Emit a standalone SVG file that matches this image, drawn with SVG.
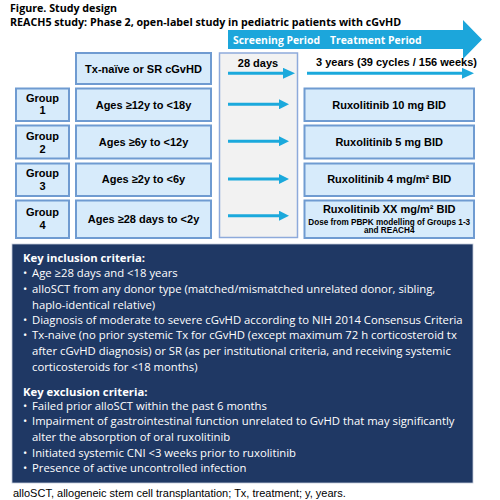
<svg xmlns="http://www.w3.org/2000/svg" width="500" height="500" viewBox="0 0 500 500">
<style>
.title{font-family:"Open Sans","Noto Sans",sans-serif;font-weight:bold;font-size:10.7px;fill:#000}
.band{font-family:"Open Sans","Noto Sans",sans-serif;font-weight:bold;font-size:10.4px;fill:#fff}
.box{fill:#d7ebfb;stroke:#6f9bd1;stroke-width:2}
.bt{font-family:"Liberation Sans",Arial,sans-serif;font-weight:bold;font-size:11px;fill:#000;text-anchor:middle}
.small{font-size:8.2px}
.crit{font-family:"Open Sans","Noto Sans",sans-serif;font-size:11.3px;fill:#fff}
.crith{font-weight:bold}
.foot{font-family:"Liberation Sans",Arial,sans-serif;font-size:11px;fill:#000}
.conn{stroke:#1ba9dc;stroke-width:3;fill:none}
</style>
<defs>
<marker id="head" markerUnits="userSpaceOnUse" viewBox="0 0 10 10" markerWidth="10" markerHeight="10" refX="0" refY="5" orient="auto">
<path d="M0,0 L10,5 L0,10 z" fill="#1ba9dc"/>
</marker>
<marker id="headL" markerUnits="userSpaceOnUse" viewBox="0 0 12 11" markerWidth="12" markerHeight="11" refX="0" refY="5.5" orient="auto">
<path d="M0,0 L12,5.5 L0,11 z" fill="#1ba9dc"/>
</marker>
</defs>
<rect width="500" height="500" fill="#fff"/>

<g id="title">
<text class="title" x="10" y="12">Figure. Study design</text>
<text class="title" x="10" y="26">REACH5 study: Phase 2, open-label study in pediatric patients with cGvHD</text>
</g>

<g id="period-band">
<polygon points="228,30 463,30 463,20 482,39.5 463,59 463,49 228,49" fill="#1ca6db"/>
<text class="band" x="233" y="44">Screening Period</text>
<text class="band" x="330" y="44">Treatment Period</text>
</g>

<g id="screening">
<rect x="219.5" y="53" width="78" height="184.5" fill="#f2f2f2" stroke="#8eaadb" stroke-width="1.5"/>
<text class="bt" x="258" y="67">28 days</text>
</g>

<g id="treatment-duration">
<text class="bt" x="396.5" y="66">3 years (39 cycles / 156 weeks)</text>
</g>

<g id="population">
<rect class="box" x="76" y="53" width="135" height="31"/>
<text class="bt" x="143.5" y="72.5">Tx-naïve or SR cGvHD</text>
</g>

<g id="group1">
<rect class="box" x="16" y="88.5" width="53" height="32.5"/>
<text class="bt" x="42.5" y="101.7">Group</text>
<text class="bt" x="42.5" y="114.3">1</text>
</g>
<g id="group2">
<rect class="box" x="16" y="125.5" width="53" height="33"/>
<text class="bt" x="42.5" y="139.5">Group</text>
<text class="bt" x="42.5" y="152.5">2</text>
</g>
<g id="group3">
<rect class="box" x="16" y="163.5" width="53" height="32.5"/>
<text class="bt" x="42.5" y="177.3">Group</text>
<text class="bt" x="42.5" y="190">3</text>
</g>
<g id="group4">
<rect class="box" x="16" y="200.5" width="53" height="37.5"/>
<text class="bt" x="42.5" y="216.3">Group</text>
<text class="bt" x="42.5" y="229">4</text>
</g>

<g id="ages1">
<rect class="box" x="76" y="88.5" width="135" height="32.5"/>
<text class="bt" x="143.5" y="109">Ages ≥12y to &lt;18y</text>
</g>
<g id="ages2">
<rect class="box" x="76" y="125.5" width="135" height="33"/>
<text class="bt" x="143.5" y="146.3">Ages ≥6y to &lt;12y</text>
</g>
<g id="ages3">
<rect class="box" x="76" y="163.5" width="135" height="32.5"/>
<text class="bt" x="143.5" y="183.3">Ages ≥2y to &lt;6y</text>
</g>
<g id="ages4">
<rect class="box" x="76" y="200.5" width="135" height="37.5"/>
<text class="bt" x="143.5" y="223.3">Ages ≥28 days to &lt;2y</text>
</g>

<g id="rux1">
<rect class="box" x="304.5" y="88.5" width="169.5" height="32.5"/>
<text class="bt" x="389.2" y="109">Ruxolitinib 10 mg BID</text>
</g>
<g id="rux2">
<rect class="box" x="304.5" y="125.5" width="169.5" height="33"/>
<text class="bt" x="389.2" y="146.3">Ruxolitinib 5 mg BID</text>
</g>
<g id="rux3">
<rect class="box" x="304.5" y="163.5" width="169.5" height="32.5"/>
<text class="bt" x="389.2" y="183.3">Ruxolitinib 4 mg/m² BID</text>
</g>
<g id="rux4">
<rect class="box" x="304.5" y="200.5" width="169.5" height="37.5"/>
<text class="bt" x="389.2" y="213.3">Ruxolitinib XX mg/m² BID</text>
<text class="bt small" x="389.2" y="224.5">Dose from PBPK modelling of Groups 1-3</text>
<text class="bt small" x="389.2" y="233">and REACH4</text>
</g>

<g id="connectors">
<line class="conn" x1="228" y1="73.3" x2="283" y2="73.3" marker-end="url(#headL)"/>
<line class="conn" x1="307" y1="73.3" x2="462" y2="73.3" marker-end="url(#headL)"/>
<line class="conn" x1="228" y1="104.3" x2="279" y2="104.3" marker-end="url(#head)"/>
<line class="conn" x1="228" y1="141.2" x2="279" y2="141.2" marker-end="url(#head)"/>
<line class="conn" x1="228" y1="179" x2="279" y2="179" marker-end="url(#head)"/>
<line class="conn" x1="228" y1="215.7" x2="279" y2="215.7" marker-end="url(#head)"/>
</g>

<g id="criteria">
<rect x="12" y="244" width="461" height="239" fill="#1f3864" stroke="#c3cbd9" stroke-width="0.8"/>
<text class="crit crith" x="23" y="262">Key inclusion criteria:</text>
<text class="crit" x="23" y="277">•</text><text class="crit" x="32" y="277">Age ≥28 days and &lt;18 years</text>
<text class="crit" x="23" y="292.7">•</text><text class="crit" x="32" y="292.7">alloSCT from any donor type (matched/mismatched unrelated donor, sibling,</text>
<text class="crit" x="32" y="308.5">haplo-identical relative)</text>
<text class="crit" x="23" y="323.8">•</text><text class="crit" x="32" y="323.8">Diagnosis of moderate to severe cGvHD according to NIH 2014 Consensus Criteria</text>
<text class="crit" x="23" y="339.4">•</text><text class="crit" x="32" y="339.4">Tx-naive (no prior systemic Tx for cGvHD (except maximum 72 h corticosteroid tx</text>
<text class="crit" x="32" y="355">after cGvHD diagnosis) or SR (as per institutional criteria, and receiving systemic</text>
<text class="crit" x="32" y="370.6">corticosteroids for &lt;18 months)</text>
<text class="crit crith" x="23" y="395.5">Key exclusion criteria:</text>
<text class="crit" x="23" y="409.5">•</text><text class="crit" x="32" y="409.5">Failed prior alloSCT within the past 6 months</text>
<text class="crit" x="23" y="425.3">•</text><text class="crit" x="32" y="425.3">Impairment of gastrointestinal function unrelated to GvHD that may significantly</text>
<text class="crit" x="32" y="440.8">alter the absorption of oral ruxolitinib</text>
<text class="crit" x="23" y="456.5">•</text><text class="crit" x="32" y="456.5">Initiated systemic CNI &lt;3 weeks prior to ruxolitinib</text>
<text class="crit" x="23" y="472">•</text><text class="crit" x="32" y="472">Presence of active uncontrolled infection</text>
</g>

<g id="footer">
<text class="foot" x="13" y="497">alloSCT, allogeneic stem cell transplantation; Tx, treatment; y, years.</text>
</g>
</svg>
